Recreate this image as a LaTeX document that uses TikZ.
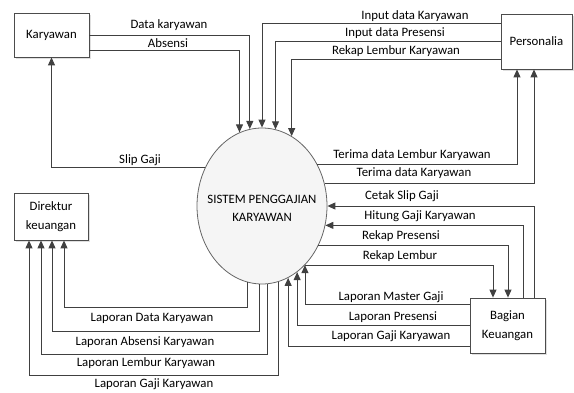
\documentclass[tikz,border=0pt]{standalone}
\usepackage{fontspec}
\setmainfont{Carlito}
\usetikzlibrary{arrows.meta,shadows,shapes.geometric}
\begin{document}
\begin{tikzpicture}[x=1pt,y=-1pt,
  ent/.style={draw=black!70, line width=0.8pt, fill=white, align=center, inner sep=1pt,
    font=\fontsize{12.8}{19}\selectfont, text=black,
    drop shadow={shadow xshift=1.5pt, shadow yshift=-1.5pt, opacity=.25}},
  flow/.style={draw=black!75, line width=0.9pt, -{Triangle[length=8pt,width=7pt]}},
  lbl/.style={inner sep=0pt, font=\fontsize{12.8}{15}\selectfont, text=black}]
\useasboundingbox (0,0) rectangle (574,392);
% entities
\node[ent, minimum width=75pt, minimum height=44pt] (ka) at (51.5,35) {Karyawan};
\node[ent, minimum width=74pt, minimum height=47pt] (dk) at (51,216.5) {Direktur\\keuangan};
\node[ent, minimum width=71pt, minimum height=55pt] (pe) at (536.5,41.5) {Personalia};
\node[ent, minimum width=75pt, minimum height=55pt] (bg) at (507.5,325.5) {Bagian\\Keuangan};
% process
\node[ellipse, draw=black!60, line width=0.8pt, fill=black!4, minimum width=130pt, minimum height=156pt, inner sep=0pt] (sys) at (262,206) {};
\node[lbl, align=center, font=\fontsize{12.8}{18}\selectfont] (syst) at (262,208) {SISTEM PENGGAJIAN\\KARYAWAN};
% Karyawan
\draw[flow] (ka.east) -| (sys.99.65);
\draw[flow] ([yshift=-15pt]ka.east) -| (sys.107.5);
\draw[flow] (sys.146.2) -| (ka.south);
% Personalia
\draw[flow] ([yshift=18.5pt]pe.west) -| (sys.90);
\draw[flow] (pe.west) -| (sys.80.35);
\draw[flow] ([yshift=-17.5pt]pe.west) -| (sys.67.44);
\draw[flow] (sys.37.48) -| ([xshift=-19.5pt]pe.south);
\draw[flow] (sys.20.32) -| ([xshift=-2.5pt]pe.south);
% Bagian Keuangan
\draw[flow] ([xshift=26.5pt]bg.north) |- (sys.0);
\draw[flow] ([xshift=15.5pt]bg.north) |- (sys.-17.66);
\draw[flow] (sys.-35.63) -| ([xshift=0.5pt]bg.north);
\draw[flow] (sys.-54.2) -| ([xshift=-14.5pt]bg.north);
\draw[flow] ([yshift=21.5pt]bg.west) -| (sys.-54.78);
\draw[flow] (bg.west) -| (sys.-62.93);
\draw[flow] ([yshift=-20.5pt]bg.west) -| (sys.-70.85);
% Direktur keuangan
\coordinate (d1) at ([xshift=13pt]dk.south);
\coordinate (d2) at ([xshift=1pt]dk.south);
\coordinate (d3) at ([xshift=-10pt]dk.south);
\coordinate (d4) at ([xshift=-22pt]dk.south);
\draw[flow] (sys.-101.95) |- (d1 |- 0,307) -- (d1);
\draw[flow] (sys.-92.21) |- (d2 |- 0,331) -- (d2);
\draw[flow] (sys.-86.32) |- (d3 |- 0,354) -- (d3);
\draw[flow] (sys.-78.82) |- (d4 |- 0,375) -- (d4);
% labels
\node[lbl] (l1) at (169,25) {Data karyawan};
\node[lbl] (l2) at (168,43) {Absensi};
\node[lbl] (l3) at (415,16) {Input data Karyawan};
\node[lbl] (l4) at (395,33) {Input data Presensi};
\node[lbl] (l5) at (396,51) {Rekap Lembur Karyawan};
\node[lbl] (l6) at (140,160) {Slip Gaji};
\node[lbl] (l7) at (412,155) {Terima data Lembur Karyawan};
\node[lbl] (l8) at (414,173) {Terima data Karyawan};
\node[lbl] (l9) at (402,196) {Cetak Slip Gaji};
\node[lbl] (l10) at (420,216) {Hitung Gaji Karyawan};
\node[lbl] (l11) at (401,236) {Rekap Presensi};
\node[lbl] (l12) at (400,256) {Rekap Lembur};
\node[lbl] (l13) at (391,297) {Laporan Master Gaji};
\node[lbl] (l14) at (393,317) {Laporan Presensi};
\node[lbl] (l15) at (391,336) {Laporan Gaji Karyawan};
\node[lbl] (l16) at (152,318) {Laporan Data Karyawan};
\node[lbl] (l17) at (145,342) {Laporan Absensi Karyawan};
\node[lbl] (l18) at (146,363) {Laporan Lembur Karyawan};
\node[lbl] (l19) at (154,384) {Laporan Gaji Karyawan};
\end{tikzpicture}
\end{document}
